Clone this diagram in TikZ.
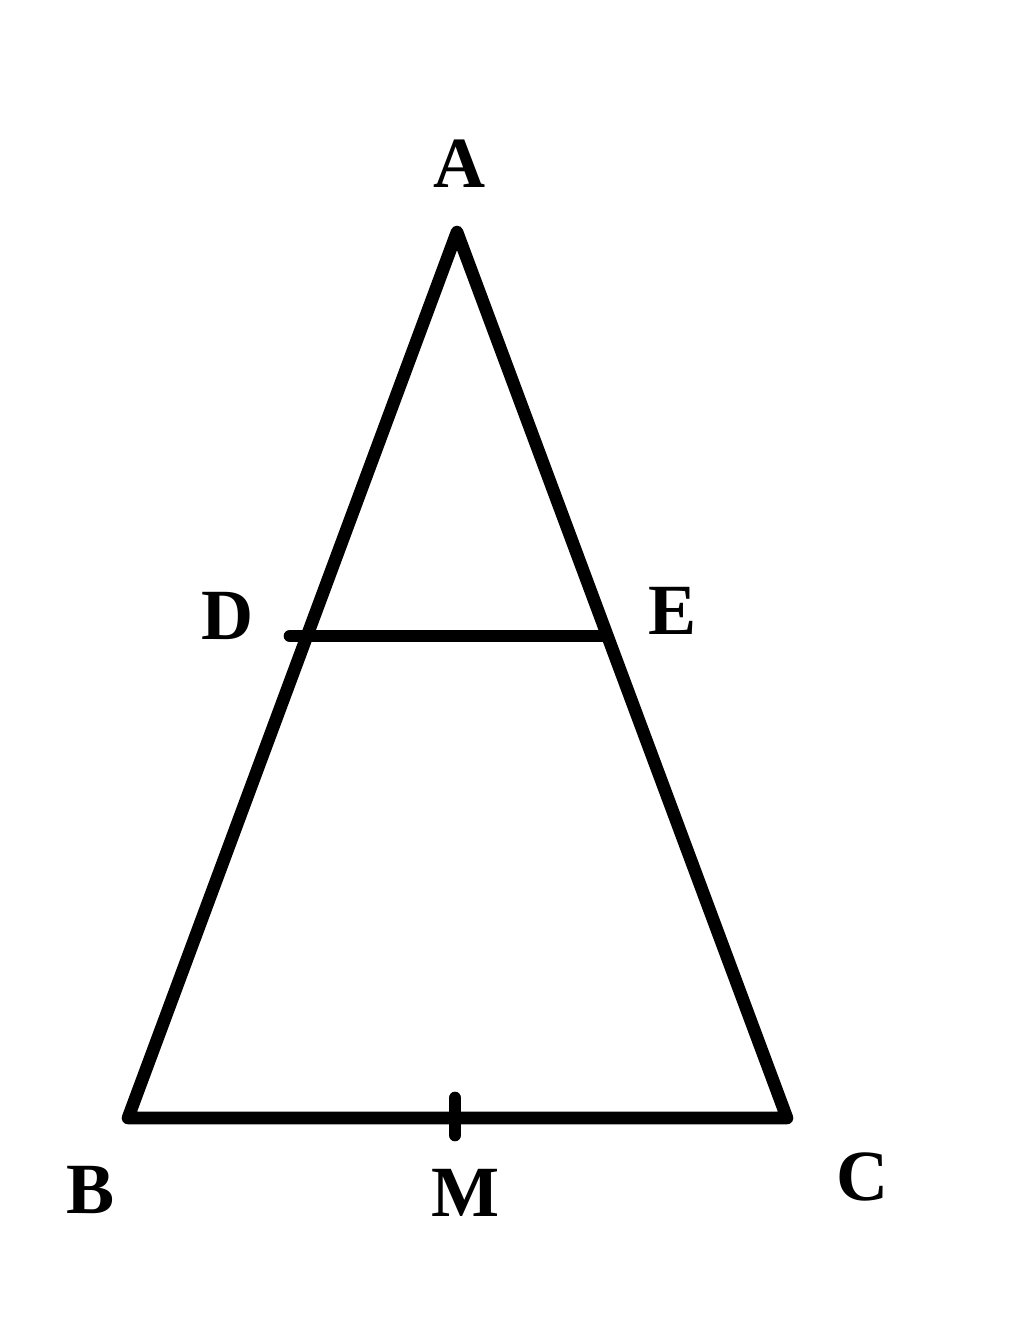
\documentclass[tikz,border=0pt]{standalone}
\usepackage{fontspec}
\setmainfont{Liberation Serif}
\usepackage{tikz}

\begin{document}
\begin{tikzpicture}[x=0.01cm,y=-0.01cm,
  side/.style={line width=3.6pt,line join=round,line cap=round},
  lbl/.style={font=\fontsize{20.5}{24}\selectfont\bfseries,inner sep=0pt}]
\useasboundingbox (0,0) rectangle (1024,1342);
\coordinate(a) at(457,232);
\coordinate(b) at(128,1118);
\coordinate(c) at(787,1118);
\coordinate(d) at(290,636);
\coordinate(e) at(607,636);
\coordinate(m) at(455,1118);
\coordinate(mt) at(455,1098);
\coordinate(mb) at(455,1135);

\node[lbl](la) at(460,164){A};
\node[lbl](lb) at(91,1190){B};
\node[lbl](lc) at(863,1177){C};
\node[lbl](ld) at(228,616){D};
\node[lbl](le) at(673,611){E};
\node[lbl](lm) at(466,1193){M};

\draw[side](b)--(a)--(c)--cycle;
\draw[side](d)--(e);
\draw[side](mt)--(mb);

\end{tikzpicture}
\end{document}
